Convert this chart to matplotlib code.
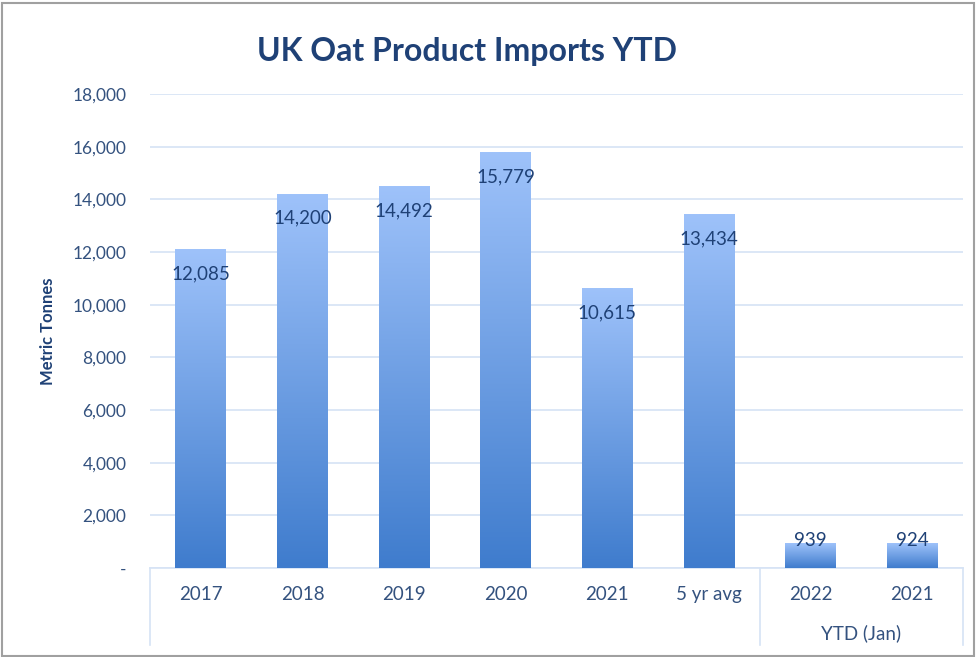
import numpy as np
import matplotlib.pyplot as plt
from matplotlib.colors import LinearSegmentedColormap
from matplotlib.patches import Rectangle

plt.rcParams['font.family'] = ['Lato', 'DejaVu Sans']

# data
categories = ["2017", "2018", "2019", "2020", "2021", "5 yr avg", "2022", "2021"]
values = [12085, 14200, 14492, 15779, 10615, 13434, 939, 924]
group_label = "YTD (Jan)"
yticks = [0, 2000, 4000, 6000, 8000, 10000, 12000, 14000, 16000, 18000]

navy = "#1f4176"
text_col = "#34527f"
cmap = LinearSegmentedColormap.from_list("bar", ["#3f7ccd", "#9ec2fa"])

fig = plt.figure(figsize=(9.77, 6.57), dpi=100)
ax = fig.add_axes([150 / 977, (657 - 568) / 657, (963 - 150) / 977, (568 - 94) / 657])

x = np.arange(len(categories))
width = 0.5
grad = np.linspace(0, 1, 256).reshape(-1, 1)
bars = ax.bar(x, values, width=width, color="none", zorder=3)
for b, v in zip(bars, values):
    x0 = b.get_x()
    ax.imshow(grad, extent=[x0, x0 + width, 0, v], origin="lower",
              aspect="auto", cmap=cmap, zorder=3)
    off = -17.5 if v > 2000 else 2
    ax.annotate(f"{v:,}", (b.get_x() + width / 2, v), xytext=(0, off),
                textcoords="offset points", ha="center", va="center",
                fontsize=13.5, color=navy, zorder=4)

ax.set_xlim(-0.5, len(categories) - 0.5)
ax.set_ylim(0, 18000)
ax.set_yticks(yticks)
ax.set_yticklabels(["-" if t == 0 else f"{t:,}" for t in yticks])
ax.tick_params(axis="y", length=0, pad=17, labelsize=12.5, labelcolor=text_col)
ax.set_xticks(x)
ax.set_xticklabels(categories)
ax.tick_params(axis="x", length=0, pad=13, labelsize=13.5, labelcolor=text_col)
ax.grid(axis="y", color="#d6e3f5", linewidth=1.2, zorder=0)
for s in ["top", "right", "left"]:
    ax.spines[s].set_visible(False)
ax.spines["bottom"].set_color("#d6e3f5")
ax.spines["bottom"].set_linewidth(1.2)

# category group separators below the axis
trans = ax.get_xaxis_transform()
for xs in [-0.5, 5.5, 7.5]:
    ax.plot([xs, xs], [0, -0.163], transform=trans, color="#d6e3f5",
            linewidth=1.2, clip_on=False)
ax.text(6.5, -0.138, group_label, transform=trans, ha="center", va="center",
        fontsize=13.5, color=text_col)

ax.set_ylabel("Metric Tonnes", fontsize=12, fontweight="bold", color=navy,
              labelpad=12)
fig.text(467 / 977, 1 - 51 / 657, "UK Oat Product Imports YTD", ha="center",
         va="center", fontsize=23, fontweight="bold", color=navy)

fig.patches.append(Rectangle((0.002, 0.002), 0.995, 0.993, transform=fig.transFigure,
                             fill=False, edgecolor="#a0a0a0", linewidth=1.5))

plt.savefig("out.png", dpi=100)
